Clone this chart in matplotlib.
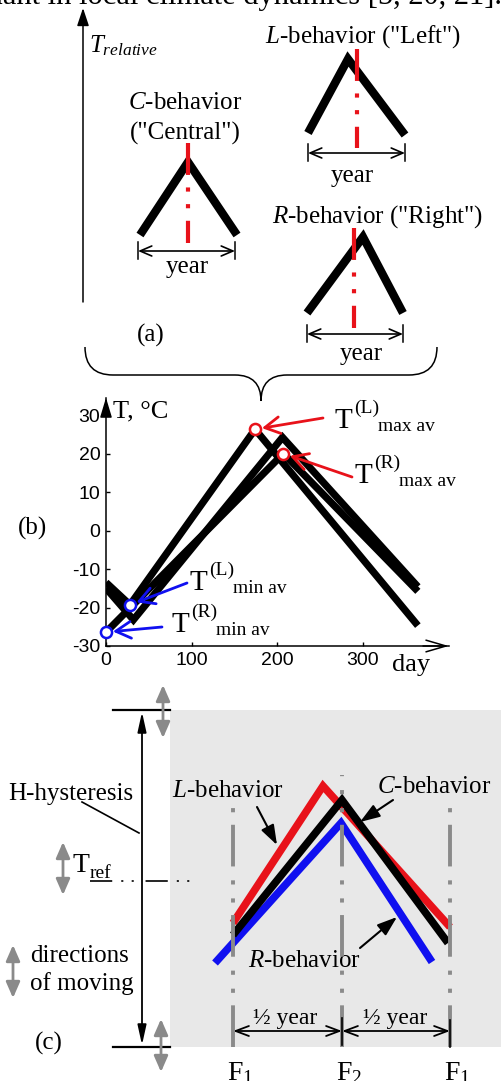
import matplotlib
matplotlib.use("Agg")
import matplotlib.pyplot as plt
from matplotlib.patches import Rectangle, PathPatch
from matplotlib.path import Path

plt.rcParams['font.family'] = ['Liberation Serif', 'DejaVu Serif']
plt.rcParams['mathtext.fontset'] = 'custom'
plt.rcParams['mathtext.rm'] = 'Liberation Serif'
plt.rcParams['mathtext.it'] = 'Liberation Serif:italic'
plt.rcParams['mathtext.bf'] = 'Liberation Serif:bold'
plt.rcParams['axes.unicode_minus'] = False
plt.rcParams['lines.scale_dashes'] = False

RED = '#e8121a'
BLUE = '#1010f0'
GRAY = '#8a8a8a'

# ---- panel (b): yearly temperature curves (day, deg C)
days_L = [0, 28, 174, 364]
temp_L = [-13.5, -19.3, 26.3, -24.7]
days_C = [0, 32, 206, 364]
temp_C = [-15.0, -23.2, 24.2, -14.6]
days_R = [0, 207, 364]
temp_R = [-26.4, 20.0, -15.8]
max_days = [174, 207]
max_temp = [26.3, 20.0]
min_days = [28, 0]
min_temp = [-19.3, -26.4]
xticks_b = [0, 100, 200, 300]
yticks_b = [-30, -20, -10, 0, 10, 20, 30]

# ---- panel (a): schematic triangles (left end, apex, right end), drawing units
tri_C_x = [140, 188, 237]
tri_C_y = [235, 162, 235]
tri_L_x = [308, 348, 405]
tri_L_y = [133, 59, 135]
tri_R_x = [307, 363, 403]
tri_R_y = [313, 237, 313]

# ---- panel (c): L / C / R behaviour lines and F marks
c_L_x = [233, 323, 450]
c_L_y = [923, 786, 927]
c_C_x = [233, 342, 448]
c_C_y = [935, 800, 943]
c_R_x = [215, 341, 432]
c_R_y = [963, 823, 962]
f_x = [233, 342, 450]
f_top = [803, 775, 803]
f_labels = [r'$\mathrm{F}_1$', r'$\mathrm{F}_2$', r'$\mathrm{F}_1$']

fig = plt.figure(figsize=(5.02, 10.81), dpi=100)
ax = fig.add_axes([0, 0, 1, 1])
ax.set_xlim(0, 502)
ax.set_ylim(1081, 0)
ax.axis('off')


def arrow(x0, y0, x1, y1, style, color='black', lw=1.0, ms=12):
    ax.annotate('', xy=(x1, y1), xytext=(x0, y0),
                arrowprops=dict(arrowstyle=style, color=color, lw=lw,
                                shrinkA=0, shrinkB=0, mutation_scale=ms))


def txt(x, y, s, size=18, ha='left', **kw):
    ax.text(x, y, s, fontsize=size, ha=ha, va='baseline', **kw)


# cut-off line of page text at the very top
txt(502, 4, 'predominant in local climate dynamics [5, 20, 21].', size=22, ha='right')

# ================= (a)
arrow(83, 302, 83, 8, '-|>,head_length=0.9,head_width=0.3', lw=1.1, ms=12)
ax.text(89, 52, r'$T_{relative}$', fontsize=18, va='baseline')

dashdot_red = (0, (23, 9, 3, 9, 3, 9))
for tx, ty, cx, top, bot in [(tri_C_x, tri_C_y, 188, 143, 243),
                             (tri_L_x, tri_L_y, 357, 49, 148),
                             (tri_R_x, tri_R_y, 354, 228, 328)]:
    ax.plot(tx, ty, color='black', lw=6.0, solid_joinstyle='miter',
            solid_capstyle='butt', zorder=3)
    ax.plot([cx, cx], [top, bot], color=RED, lw=3.0, linestyle=dashdot_red,
            dash_capstyle='butt', zorder=4)

for x0, x1, y in [(138, 235, 251), (308, 405, 153), (307, 403, 334)]:
    arrow(x0, y, x1, y, '<->,head_length=0.7,head_width=0.3', lw=1.2, ms=12)
    ax.plot([x0, x0], [y - 9, y + 8], color='black', lw=1.1)
    ax.plot([x1, x1], [y - 9, y + 8], color='black', lw=1.1)

txt(185, 109, r'$C$-behavior', ha='center')
txt(185, 140, '("Central")', ha='center')
txt(363, 43, r'$L$-behavior ("Left")', ha='center')
txt(378, 223, r'$R$-behavior ("Right")', ha='center')
txt(187, 273, 'year', ha='center')
txt(352, 182, 'year', ha='center')
txt(361, 360, 'year', ha='center')
txt(151, 342, '(a)', ha='center')

# curly brace joining (a) to (b)
bv = [(85, 347), (85, 375), (113, 375), (235, 375), (261, 375), (261, 401),
      (261, 375), (287, 375), (409, 375), (437, 375), (437, 347)]
bc = [Path.MOVETO, Path.CURVE3, Path.CURVE3, Path.LINETO, Path.CURVE3, Path.CURVE3,
      Path.CURVE3, Path.CURVE3, Path.LINETO, Path.CURVE3, Path.CURVE3]
ax.add_patch(PathPatch(Path(bv, bc), fill=False, lw=1.1, color='black'))

# ================= (c)
ax.add_patch(Rectangle((170, 710), 332, 337, facecolor='#e8e8e8', edgecolor='none', zorder=0))
ax.plot([113, 170], [710, 710], color='black', lw=1.6)
ax.plot([113, 170], [1047, 1047], color='black', lw=1.6)
arrow(142, 712, 142, 1045, '<|-|>,head_length=1.0,head_width=0.22', lw=1.3, ms=12)
ax.plot([82, 139], [802, 833], color='black', lw=1.2)

for gx, g0, g1 in [(163, 685, 738), (161, 1019, 1072), (63, 842, 895), (13, 945, 998)]:
    arrow(gx, g0, gx, g1, '<|-|>,head_length=0.8,head_width=0.35', color=GRAY, lw=2.0, ms=12)

txt(8, 800, 'H-hysteresis')
txt(73, 872, 'T', size=20)
txt(90, 878, 'ref', size=14)
ax.plot([90, 190], [881, 881], color='black', lw=1.2,
        linestyle=(0, (16, 6.5, 1.5, 6, 1.5, 8.5)), dash_capstyle='butt')
txt(30, 962, 'directions')
txt(30, 990, 'of moving')
txt(35, 1050, '(c)')

ax.plot(c_R_x, c_R_y, color=BLUE, lw=5.5, solid_joinstyle='miter', solid_capstyle='butt', zorder=3)
ax.plot(c_L_x, c_L_y, color=RED, lw=5.5, solid_joinstyle='miter', solid_capstyle='butt', zorder=3)
ax.plot(c_C_x, c_C_y, color='black', lw=5.5, solid_joinstyle='miter', solid_capstyle='butt', zorder=4)

for fx, ft, fl in zip(f_x, f_top, f_labels):
    ax.plot([fx, fx], [1047, ft], color=GRAY, lw=2.8,
            linestyle=(0, (30, 9, 3, 10, 3, 10)), dash_capstyle='butt', zorder=5)
    ax.text(fx - 6, 1080, fl, fontsize=20, va='baseline')

txt(172, 797, r'$L$-behavior')
txt(377, 793, r'$C$-behavior')
txt(248, 967, r'$R$-behavior')
arrow(257, 807, 277, 845, '-|>,head_length=1.0,head_width=0.35', lw=1.5, ms=12)
arrow(393, 800, 360, 822, '-|>,head_length=1.0,head_width=0.35', lw=1.5, ms=12)
arrow(360, 948, 397, 917, '-|>,head_length=1.0,head_width=0.35', lw=1.5, ms=12)

arrow(233, 1031, 342, 1031, '<->,head_length=0.8,head_width=0.3', lw=1.3, ms=12)
arrow(342, 1031, 450, 1031, '<->,head_length=0.8,head_width=0.3', lw=1.3, ms=12)
ax.plot([342, 342], [1018, 1045], color='black', lw=1.2, zorder=6)
ax.plot([450, 450], [1020, 1047], color='black', lw=1.2, zorder=6)
txt(285, 1024, '\u00bd year', size=17, ha='center')
txt(395, 1024, '\u00bd year', size=17, ha='center')

# ================= (b) real axes
bx = fig.add_axes([106 / 502, (1081 - 646) / 1081, 342.7 / 502, 248.3 / 1081])
bx.set_facecolor('none')
bx.set_xlim(0, 400)
bx.set_ylim(-30, 34.5)
for s in ['top', 'right']:
    bx.spines[s].set_visible(False)
for s in ['left', 'bottom']:
    bx.spines[s].set_linewidth(1.1)
bx.set_xticks(xticks_b)
bx.set_yticks(yticks_b)
bx.tick_params(direction='in', length=3, width=1, labelsize=14, pad=4)
for lbl in bx.get_xticklabels() + bx.get_yticklabels():
    lbl.set_fontfamily('Liberation Sans')
bx.annotate('', xy=(400, -30), xytext=(370, -30),
            arrowprops=dict(arrowstyle='->,head_length=1.2,head_width=0.35', lw=1.1,
                            color='black', shrinkA=0, shrinkB=0, mutation_scale=12),
            annotation_clip=False)
bx.annotate('', xy=(0, 34.5), xytext=(0, 30),
            arrowprops=dict(arrowstyle='-|>,head_length=1.0,head_width=0.3', lw=1.1,
                            color='black', shrinkA=0, shrinkB=0, mutation_scale=12),
            annotation_clip=False)

for dx, ty in [(days_R, temp_R), (days_C, temp_C), (days_L, temp_L)]:
    bx.plot(dx, ty, color='black', lw=5.2, solid_joinstyle='miter', solid_capstyle='butt')

bx.plot(max_days, max_temp, 'o', mfc='white', mec=RED, ms=8, mew=1.8, clip_on=False, zorder=5)
bx.plot(min_days, min_temp, 'o', mfc='white', mec=BLUE, ms=8, mew=1.8, clip_on=False, zorder=5)

arrow_src = [(323, 418), (352, 477), (187, 583), (162, 627)]
arrow_dst = list(zip(max_days, max_temp)) + list(zip(min_days, min_temp))
arrow_col = [RED, RED, BLUE, BLUE]
for src, dst, col in zip(arrow_src, arrow_dst, arrow_col):
    bx.annotate('', xy=dst, xytext=src, textcoords=ax.transData,
                arrowprops=dict(arrowstyle='->,head_length=0.9,head_width=0.5', color=col,
                                lw=2.0, shrinkA=0, shrinkB=5, mutation_scale=12),
                annotation_clip=False)

txt(113, 417, 'T, \u00b0C', size=19)
txt(392, 671, 'day', size=19)
txt(18, 535, '(b)')

labels_b = [(335, 428, '(L)', 'max av'), (355, 483, '(R)', 'max av'),
            (190, 590, '(L)', 'min av'), (172, 632, '(R)', 'min av')]
for lx, ly, sup, sub in labels_b:
    txt(lx, ly, 'T', size=21)
    txt(lx + 19, ly - 15, sup, size=14)
    txt(lx + 44 if sup == '(R)' else lx + 43, ly + 3, sub, size=14)

fig.savefig('out.png', dpi=100)
